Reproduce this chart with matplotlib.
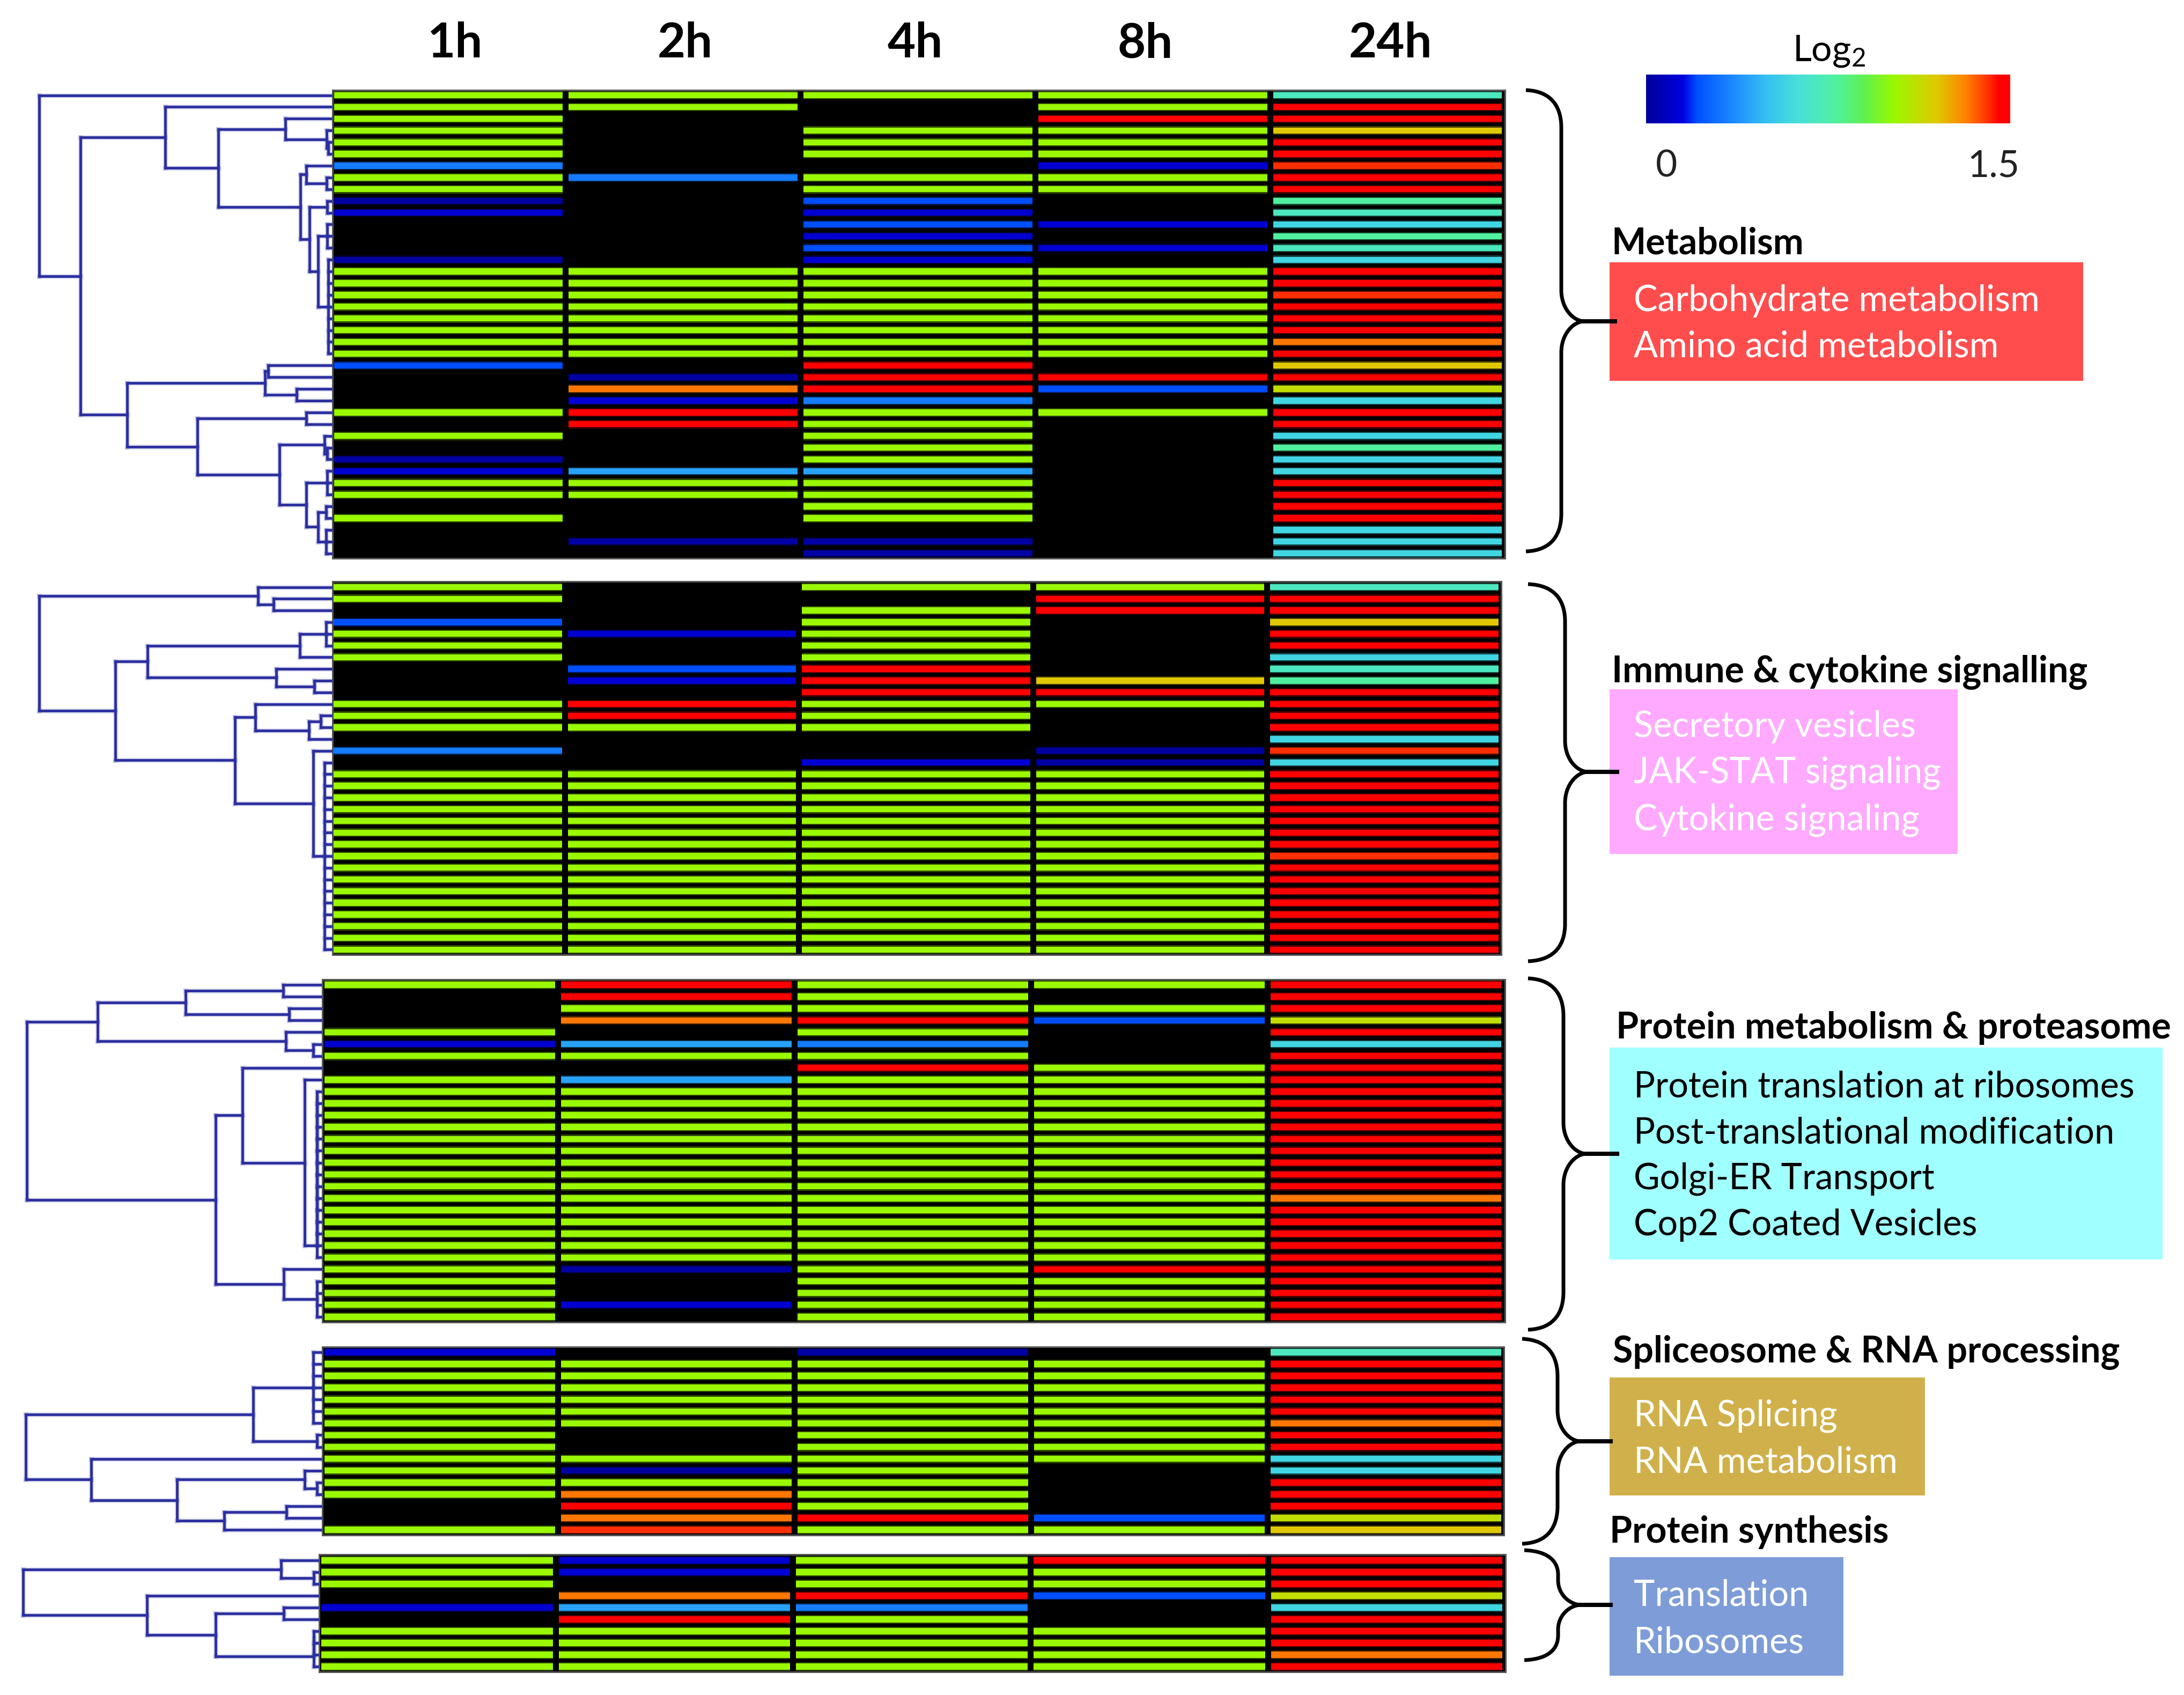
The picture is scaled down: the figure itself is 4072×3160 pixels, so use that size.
import numpy as np
import matplotlib
matplotlib.use("Agg")
import matplotlib.pyplot as plt
from matplotlib.cm import ScalarMappable
from matplotlib.collections import LineCollection
from matplotlib.colors import LinearSegmentedColormap, Normalize
from matplotlib.patches import PathPatch, Rectangle
from matplotlib.path import Path

plt.rcParams["font.family"] = ["Lato", "DejaVu Sans"]
plt.rcParams["mathtext.default"] = "regular"

W, H = 4073, 3160

# log2 levels read against the colour bar, X = no value (black)
X = np.nan
N = 0.02
D = 0.12
B = 0.21
P = 0.32
L = 0.42
C = 0.58
T = 0.70
M = 0.78
G = 1.02
V = 1.12
Y = 1.2
O = 1.33
E = 1.41
R = 1.5

times = ["1h", "2h", "4h", "8h", "24h"]

metabolism_1h = [G, G, G, G, G, G, P, G, G, N, D, X, X, X, N, G, G, G, G, G, G, G, G, B, X, X, X, G, X, G, X, N, D, G, G, X, G, X, X, X]
metabolism_2h = [G, G, X, X, X, X, X, P, X, X, X, X, X, X, X, G, G, G, G, G, G, G, G, X, N, O, D, R, R, X, X, X, L, G, G, X, X, X, N, X]
metabolism_4h = [G, X, X, G, G, G, X, G, G, B, D, B, D, B, D, G, G, G, G, G, G, G, G, R, R, R, P, G, G, G, G, G, L, G, G, G, G, X, N, N]
metabolism_8h = [G, G, R, G, G, G, D, G, G, X, X, D, X, D, X, G, G, G, G, G, G, G, G, X, R, B, X, G, X, X, X, X, X, X, X, X, X, X, X, X]
metabolism_24h = [T, R, R, Y, R, R, E, R, R, M, T, C, M, T, C, R, R, E, R, R, R, O, R, Y, R, V, C, R, R, C, M, C, C, R, R, R, R, C, C, C]

immune_1h = [G, G, X, B, G, G, G, X, X, X, G, G, G, X, P, X, G, G, G, G, G, G, G, G, G, G, G, G, G, G, G, G]
immune_2h = [X, X, X, X, D, X, X, B, D, X, R, R, G, X, X, X, G, G, G, G, G, G, G, G, G, G, G, G, G, G, G, G]
immune_4h = [G, X, G, G, G, G, G, R, R, R, G, G, G, X, X, D, G, G, G, G, G, G, G, G, G, G, G, G, G, G, G, G]
immune_8h = [G, R, R, X, X, X, X, X, Y, R, G, X, X, X, N, N, G, G, G, G, G, G, G, G, G, G, G, G, G, G, G, G]
immune_24h = [T, R, R, Y, R, R, C, T, M, R, R, R, R, C, E, C, R, R, R, R, R, R, R, E, R, R, R, R, R, R, R, R]

proteasome_1h = [G, X, X, X, G, D, G, X, G, G, G, G, G, G, G, G, G, G, G, G, G, G, G, G, G, G, G, G, G]
proteasome_2h = [R, R, G, O, X, L, G, X, L, G, G, G, G, G, G, G, G, G, G, G, G, G, G, G, N, X, X, D, X]
proteasome_4h = [G, G, G, R, G, P, G, R, G, G, G, G, G, G, G, G, G, G, G, G, G, G, G, G, G, G, G, G, G]
proteasome_8h = [G, X, G, B, X, X, X, G, G, G, G, G, G, G, G, G, G, G, G, G, G, G, G, G, R, G, G, G, G]
proteasome_24h = [R, R, R, V, R, C, R, R, R, R, R, R, R, R, R, R, R, R, O, R, R, R, R, R, R, R, R, R, R]

splicing_1h = [D, G, G, G, G, G, G, G, G, G, G, G, G, X, X, G]
splicing_2h = [X, G, G, G, G, G, G, X, X, G, N, G, O, R, O, E]
splicing_4h = [N, G, G, G, G, G, G, G, G, G, G, G, G, G, R, G]
splicing_8h = [X, G, G, G, G, G, G, G, G, G, X, X, X, X, B, G]
splicing_24h = [T, R, R, R, R, R, O, R, R, C, C, R, R, R, V, Y]

ribosome_1h = [G, G, G, X, D, X, G, G, G, G]
ribosome_2h = [D, D, X, O, L, R, G, G, G, G]
ribosome_4h = [G, G, G, R, P, G, G, G, G, G]
ribosome_8h = [R, G, G, B, X, X, G, G, G, G]
ribosome_24h = [R, R, R, V, C, R, R, R, O, R]


def comb(h, a, b):
    return (h, *range(a, b + 1))


def chain(h, a, b):
    node = a
    for r in range(a + 1, b + 1):
        node = (h, node, r)
    return node


# trees: (distance from heatmap edge, child, child, ...), a leaf is a row number
metabolism_tree = (547, 0, (470,
    (312, 1, (213,
        (88, 2, (11, 3, (8, 4, 5))),
        (60,
            (49, 6, (11, 7, 8)),
            (43, (10, 9, 10), (27, comb(10, 11, 13), comb(8, 14, 22)))))),
    (383,
        (126, (120, 23, 24), (67, 25, 26)),
        (252,
            (49, 27, 28),
            (99,
                (15, 29, (10, 30, 31)),
                (49, comb(10, 32, 34), (27, (12, 35, 36), comb(12, 37, 39))))))))

immune_tree = (547,
    (139, 0, (110, 1, 2)),
    (405,
        (345,
            (61, comb(12, 3, 5), 6),
            (105, 7, (34, 8, 9))),
        (182,
            (144, 10, (44, (22, 11, 12), 13)),
            (36, 14, comb(15, 15, 31)))))

proteasome_tree = (551,
    (419,
        (255, (73, 0, 1), (62, 2, 3)),
        (68, 4, (17, 5, 6))),
    (199,
        (149, 7, (33, 8, chain(10, 9, 23))),
        (72, 24, comb(10, 25, 28))))

splicing_tree = (553,
    (129, comb(17, 0, 6), (10, 7, 8)),
    (431,
        9,
        (271,
            (33, 10, (10, 11, 12)),
            (183, (67, 13, 14), 15))))

ribosome_tree = (552,
    (71, 0, (10, 1, 2)),
    (321,
        3,
        (193, (66, 4, 5), chain(10, 6, 9))))

bar_stops = [(0.0, "#00009a"), (0.1, "#0000e0"), (0.14, "#0050ff"), (0.25, "#2090ff"),
             (0.33, "#35c0f0"), (0.42, "#48e0d8"), (0.52, "#50f0a0"), (0.6, "#60f050"),
             (0.68, "#99f800"), (0.8, "#e0c800"), (0.88, "#ff8000"), (0.94, "#ff3000"),
             (0.97, "#ff0000"), (1.0, "#ff0000")]
cmap = LinearSegmentedColormap.from_list("log2", bar_stops, N=512)
norm = Normalize(0, 1.5)

panels = [
    dict(cols=[metabolism_1h, metabolism_2h, metabolism_4h, metabolism_8h, metabolism_24h], tree=metabolism_tree,
         left=620, right=2806, top=168, bottom=1041, first=177.6, pitch=21.9, x0=836, xstep=437.75),
    dict(cols=[immune_1h, immune_2h, immune_4h, immune_8h, immune_24h], tree=immune_tree,
         left=620, right=2799, top=1084, bottom=1780, first=1094.5, pitch=21.8, x0=835, xstep=436.5),
    dict(cols=[proteasome_1h, proteasome_2h, proteasome_4h, proteasome_8h, proteasome_24h], tree=proteasome_tree,
         left=601, right=2806, top=1826, bottom=2465, first=1836, pitch=22.1, x0=820, xstep=441),
    dict(cols=[splicing_1h, splicing_2h, splicing_4h, splicing_8h, splicing_24h], tree=splicing_tree,
         left=601, right=2804, top=2511, bottom=2862, first=2521, pitch=22.07, x0=820, xstep=441),
    dict(cols=[ribosome_1h, ribosome_2h, ribosome_4h, ribosome_8h, ribosome_24h], tree=ribosome_tree,
         left=595, right=2807, top=2898, bottom=3117, first=2909, pitch=22, x0=815, xstep=442.6),
]


def px_axes(fig, x0, y0, x1, y1, **kw):
    return fig.add_axes([x0 / W, 1 - y1 / H, (x1 - x0) / W, (y1 - y0) / H], **kw)


def tree_segments(node, segs):
    if not isinstance(node, tuple):
        return 0, node
    h = node[0]
    ys = []
    for child in node[1:]:
        ch, cy = tree_segments(child, segs)
        segs.append([(ch, cy), (h, cy)])
        ys.append(cy)
    segs.append([(h, ys[0]), (h, ys[-1])])
    return h, (ys[0] + ys[-1]) / 2


fig = plt.figure(figsize=(W / 100, H / 100), dpi=100, facecolor="white")

for p in panels:
    ylim = ((p["bottom"] - p["first"]) / p["pitch"], (p["top"] - p["first"]) / p["pitch"])

    ax = px_axes(fig, p["left"], p["top"], p["right"], p["bottom"], facecolor="black")
    for i, col in enumerate(p["cols"]):
        vals = np.array(col, dtype=float)
        rows = np.arange(len(vals))
        mask = ~np.isnan(vals)
        colors = cmap(norm(vals[mask]))
        ax.barh(rows[mask], 0.975, left=i - 0.4875, height=0.72, color=colors, alpha=0.3, linewidth=0)
        ax.barh(rows[mask], 0.975, left=i - 0.4875, height=0.52, color=colors, linewidth=0)
    ax.set_xlim((p["left"] - p["x0"]) / p["xstep"], (p["right"] - p["x0"]) / p["xstep"])
    ax.set_ylim(*ylim)
    ax.set_xticks([])
    ax.set_yticks([])
    for s in ax.spines.values():
        s.set_color("#555555")
        s.set_linewidth(2.2)

    ax_tree = px_axes(fig, 0, p["top"], p["left"], p["bottom"])
    ax_tree.patch.set_alpha(0)
    segs = []
    tree_segments(p["tree"], segs)
    ax_tree.add_collection(LineCollection(segs, colors="#2b2f9f", linewidths=6.5, alpha=0.18, capstyle="projecting"))
    ax_tree.add_collection(LineCollection(segs, colors="#2b2f9f", linewidths=3.5, capstyle="projecting"))
    ax_tree.set_xlim(p["left"], 0)
    ax_tree.set_ylim(*ylim)
    ax_tree.axis("off")

# colour bar
ax_bar = px_axes(fig, 3069, 139, 3748, 230)
cb = fig.colorbar(ScalarMappable(norm=norm, cmap=cmap), cax=ax_bar, orientation="horizontal")
cb.set_ticks([])
cb.outline.set_visible(False)

# overlay in figure pixels for labels, boxes and braces
ov = px_axes(fig, 0, 0, W, H)
ov.set_xlim(0, W)
ov.set_ylim(H, 0)
ov.axis("off")
ov.patch.set_alpha(0)

for t, x in zip(times, [848, 1277, 1706, 2135, 2592]):
    ov.text(x, 81, t, ha="center", va="center", fontsize=65, fontweight="bold", color="black")

ov.text(3410, 95, "Log$_2$", ha="center", va="center", fontsize=49, color="black")
ov.text(3107, 310, "0", ha="center", va="center", fontsize=50, color="#222222")
ov.text(3717, 310, "1.5", ha="center", va="center", fontsize=50, color="#222222")

boxes = [
    (3001, 489, 3884, 710, "#ff4d4d", "white", [("Carbohydrate metabolism", 561), ("Amino acid metabolism", 647)]),
    (3001, 1285, 3650, 1592, "#ffaaff", "white", [("Secretory vesicles", 1355), ("JAK-STAT signaling", 1441), ("Cytokine signaling", 1529)]),
    (3001, 1953, 4032, 2348, "#a0ffff", "black", [("Protein translation at ribosomes", 2026), ("Post-translational modification", 2113),
                                                 ("Golgi-ER Transport", 2198), ("Cop2 Coated Vesicles", 2284)]),
    (3001, 2568, 3589, 2788, "#d0b04a", "white", [("RNA Splicing", 2640), ("RNA metabolism", 2726)]),
    (3001, 2903, 3437, 3124, "#7d9cd8", "white", [("Translation", 2975), ("Ribosomes", 3062)]),
]
for x0, y0, x1, y1, fc, tc, lines in boxes:
    ov.add_patch(Rectangle((x0, y0), x1 - x0, y1 - y0, facecolor=fc, edgecolor="none"))
    for txt, y in lines:
        ov.text(3046, y, txt, ha="left", va="center", fontsize=48, color=tc)

titles = [("Metabolism", 3005, 454), ("Immune & cytokine signalling", 3005, 1254),
          ("Protein metabolism & proteasome", 3013, 1916), ("Spliceosome & RNA processing", 3007, 2522),
          ("Protein synthesis", 3001, 2857)]
for txt, x, y in titles:
    ov.text(x, y, txt, ha="left", va="center", fontsize=49, fontweight="bold", color="black")

braces = [(2845, 2911, 3015, 168, 599, 1028), (2849, 2918, 3019, 1089, 1439, 1792),
          (2849, 2915, 3019, 1824, 2151, 2479), (2838, 2904, 3007, 2496, 2687, 2878),
          (2842, 2905, 3007, 2890, 2992, 3095)]
for xl, xs, xe, top, mid, bot in braces:
    r1 = min(70, (mid - top) * 0.45)
    r2 = min(58, (mid - top) * 0.45)
    xc = xs + 43
    verts = [(xl, top), (xs - 15, top + 2), (xs, top + r1 * 0.5), (xs, top + r1),
             (xs, mid - r2), (xs, mid - r2 * 0.4), (xc - 20, mid), (xc, mid), (xe, mid),
             (xc, mid), (xc - 20, mid), (xs, mid + r2 * 0.4), (xs, mid + r2),
             (xs, bot - r1), (xs, bot - r1 * 0.5), (xs - 15, bot - 2), (xl, bot)]
    c4, ln = Path.CURVE4, Path.LINETO
    codes = [Path.MOVETO, c4, c4, c4, ln, c4, c4, c4, ln, ln, c4, c4, c4, ln, c4, c4, c4]
    ov.add_patch(PathPatch(Path(verts, codes), facecolor="none", edgecolor="black", linewidth=5))

fig.savefig("out.png", dpi=100)
plt.close(fig)
